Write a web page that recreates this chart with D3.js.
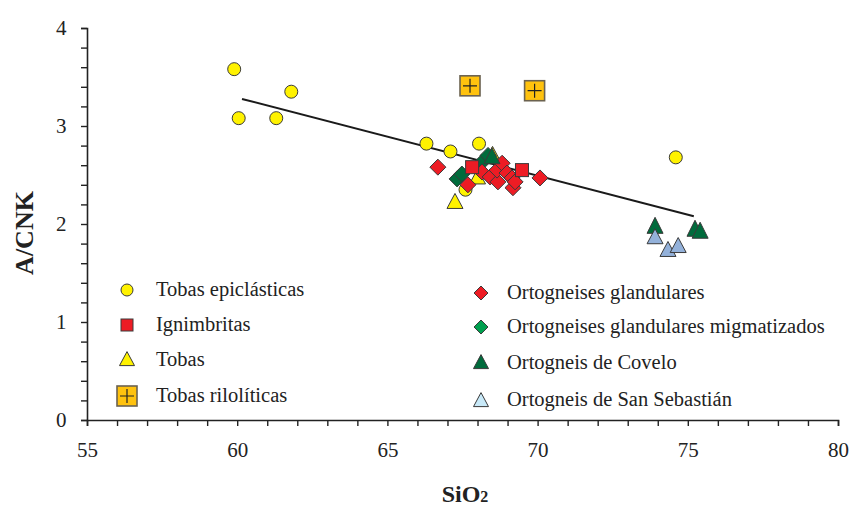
<!DOCTYPE html>
<html>
<head>
<meta charset="utf-8">
<script src="https://cdn.jsdelivr.net/npm/d3@7"></script>
<style>
  html, body { margin: 0; padding: 0; background: #fff; }
  svg { display: block; font-family: "Liberation Serif", "Times New Roman", serif; }
</style>
</head>
<body>
<svg id="chart" width="850" height="509"></svg>
<script>
// A/CNK vs SiO2 for the volcanic and orthogneiss samples
const tobasEpiclasticas = [
  [59.9, 3.58], [60.05, 3.08], [61.3, 3.08], [61.8, 3.35],
  [66.3, 2.82], [67.1, 2.74], [68.05, 2.82], [67.6, 2.35], [74.6, 2.68]
];
const tobas = [[67.25, 2.22], [68.0, 2.47], [68.5, 2.70]];
const tobasRioliticas = [[67.75, 3.41], [69.9, 3.36]];
const ortogneisesGlandulares = [
  [66.68, 2.58], [67.68, 2.40], [68.15, 2.53], [68.42, 2.48],
  [68.68, 2.43], [68.65, 2.55], [68.82, 2.62], [68.98, 2.52], [69.15, 2.47],
  [69.18, 2.37], [69.25, 2.43], [70.08, 2.47]
];
const ignimbritas = [[67.82, 2.58], [69.48, 2.55]];
const migmatizados = [[67.32, 2.46], [67.48, 2.51], [68.15, 2.63], [68.35, 2.70]];
const covelo = [[68.48, 2.68], [73.91, 1.97], [75.24, 1.94], [75.41, 1.92]];
const sanSebastian = [[73.91, 1.86], [74.34, 1.73], [74.68, 1.77]];
// least-squares trend line endpoints
const trend = [[60.16, 3.276], [75.2, 2.08]];

const xTicks = [55, 60, 65, 70, 75, 80];
const yTicks = [0, 1, 2, 3, 4];

const svg = d3.select("#chart");
const x = d3.scaleLinear().domain([55, 80]).range([87, 838]);
const y = d3.scaleLinear().domain([0, 4]).range([420, 28]);

const stroke = "#3a3a3a";

// axes
const xAxis = d3.axisBottom(x).tickValues(d3.range(55, 80.5, 1)).tickSize(6)
  .tickFormat(d => xTicks.includes(d) ? d : "");
const yAxis = d3.axisLeft(y).tickValues(d3.range(0, 4.01, 0.2).map(v => +v.toFixed(1))).tickSize(6)
  .tickFormat(d => yTicks.includes(d) ? d : "");

const gx = svg.append("g").attr("transform", "translate(0,420)").call(xAxis);
const gy = svg.append("g").attr("transform", "translate(87,0)").call(yAxis);
[gx, gy].forEach(g => {
  g.select(".domain").attr("stroke", "#222").attr("stroke-width", 1.6);
  g.selectAll(".tick line").attr("stroke", "#222").attr("stroke-width", 1.4);
  g.selectAll("text").attr("fill", "#222").attr("font-size", 21)
    .attr("font-family", "Liberation Serif, Times New Roman, serif");
});
gx.selectAll("text").attr("dy", "1.35em");
gy.selectAll("text").attr("dx", "-0.55em");

// axis titles
svg.append("text").attr("x", 465).attr("y", 502).attr("text-anchor", "middle")
  .attr("font-size", 24).attr("font-weight", "bold").attr("fill", "#222")
  .text("SiO").append("tspan").attr("font-size", 16).text("2");
svg.append("text").attr("transform", "translate(33,233) rotate(-90)")
  .attr("text-anchor", "middle").attr("font-size", 26).attr("font-weight", "bold")
  .attr("fill", "#222").text("A/CNK");

// trend line
svg.append("line")
  .attr("x1", x(trend[0][0])).attr("y1", y(trend[0][1]))
  .attr("x2", x(trend[1][0])).attr("y2", y(trend[1][1]))
  .attr("stroke", "#1a1a1a").attr("stroke-width", 2);

// marker helpers
function circle(g, cx, cy, r, fill) {
  g.append("circle").attr("cx", cx).attr("cy", cy).attr("r", r)
    .attr("fill", fill).attr("stroke", stroke).attr("stroke-width", 1);
}
function square(g, cx, cy, s, fill) {
  g.append("rect").attr("x", cx - s / 2).attr("y", cy - s / 2).attr("width", s).attr("height", s)
    .attr("fill", fill).attr("stroke", stroke).attr("stroke-width", 1);
}
function crossSquare(g, cx, cy, s, fill) {
  g.append("rect").attr("x", cx - s / 2).attr("y", cy - s / 2).attr("width", s).attr("height", s)
    .attr("fill", fill).attr("stroke", "#6b6250").attr("stroke-width", 1.6);
  const h = s * 0.35;
  g.append("path").attr("d", `M${cx - h},${cy}H${cx + h}M${cx},${cy - h}V${cy + h}`)
    .attr("stroke", "#222").attr("stroke-width", 1.2);
}
function diamond(g, cx, cy, s, fill) {
  g.append("path").attr("d", `M${cx},${cy - s}L${cx + s},${cy}L${cx},${cy + s}L${cx - s},${cy}Z`)
    .attr("fill", fill).attr("stroke", stroke).attr("stroke-width", 1);
}
function triangle(g, cx, cy, w, h, fill) {
  g.append("path").attr("d", `M${cx},${cy - h * 0.6}L${cx + w / 2},${cy + h * 0.4}L${cx - w / 2},${cy + h * 0.4}Z`)
    .attr("fill", fill).attr("stroke", stroke).attr("stroke-width", 1);
}

const C = {
  yellow: "#fff200", red: "#ed1c24", orange: "#ffc20e",
  dgreen: "#006b3c", lgreen: "#00a04f", steel: "#93b1da", pale: "#c8e9f8"
};

const pts = svg.append("g");
tobasEpiclasticas.forEach(([a, b]) => circle(pts, x(a), y(b), 6.5, C.yellow));
tobas.forEach(([a, b]) => triangle(pts, x(a), y(b), 16, 15, C.yellow));
migmatizados.forEach(([a, b]) => diamond(pts, x(a), y(b), 8, C.dgreen));
ortogneisesGlandulares.forEach(([a, b]) => diamond(pts, x(a), y(b), 8, C.red));
ignimbritas.forEach(([a, b]) => square(pts, x(a), y(b), 13, C.red));
covelo.forEach(([a, b]) => triangle(pts, x(a), y(b), 16, 16, C.dgreen));
sanSebastian.forEach(([a, b]) => triangle(pts, x(a), y(b), 16, 15, C.steel));
tobasRioliticas.forEach(([a, b]) => crossSquare(pts, x(a), y(b), 20, C.orange));

// legend
const leg = svg.append("g").attr("font-size", 20.5).attr("fill", "#222");
const left = [
  ["Tobas epiclásticas", g => circle(g, 127, 290, 6, C.yellow)],
  ["Ignimbritas", g => square(g, 127, 325, 12, C.red)],
  ["Tobas", g => triangle(g, 127, 360, 15, 14, C.yellow)],
  ["Tobas rilolíticas", g => crossSquare(g, 127, 396, 20, C.orange)]
];
const leftY = [290, 325, 360, 396];
left.forEach(([t, draw], i) => {
  draw(leg);
  leg.append("text").attr("x", 156).attr("y", leftY[i] + 6).text(t);
});
const right = [
  ["Ortogneises glandulares", g => diamond(g, 481, 293, 7, C.red)],
  ["Ortogneises glandulares migmatizados", g => diamond(g, 481, 327, 7, C.lgreen)],
  ["Ortogneis de Covelo", g => triangle(g, 481, 363, 15, 14, C.dgreen)],
  ["Ortogneis de San Sebastián", g => triangle(g, 481, 401, 15, 14, C.pale)]
];
const rightY = [293, 327, 363, 400];
right.forEach(([t, draw], i) => {
  draw(leg);
  leg.append("text").attr("x", 507).attr("y", rightY[i] + 6).text(t);
});
</script>
</body>
</html>
